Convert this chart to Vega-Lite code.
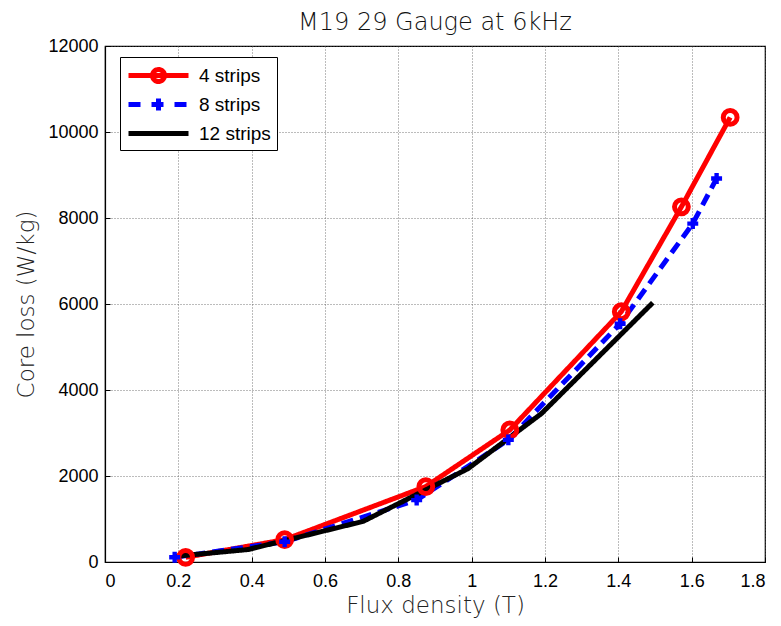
{
  "$schema": "https://vega.github.io/schema/vega-lite/v6.json",
  "autosize": "none",
  "width": 660,
  "height": 516,
  "padding": {"left": 105, "top": 46, "right": 16, "bottom": 64},
  "background": "white",
  "title": {"text": "M19 29 Gauge at 6kHz", "font": "DejaVu Sans", "fontSize": 24, "fontWeight": 200, "color": "#111111", "offset": 2, "anchor": "middle"},
  "config": {
    "view": {"stroke": "black", "strokeWidth": 1.2},
    "axis": {
      "labelFont": "Liberation Sans", "labelFontSize": 18, "labelColor": "black",
      "titleFont": "DejaVu Sans", "titleFontSize": 23, "titleFontWeight": 200, "titleColor": "#222222",
      "domainColor": "black", "domainWidth": 1.2,
      "tickColor": "black", "tickSize": -5,
      "gridColor": "#555555", "gridDash": [1, 2], "gridWidth": 0.8, "gridOpacity": 1
    },
    "legend": {
      "labelFont": "Liberation Sans", "labelFontSize": 19, "labelColor": "black"
    }
  },
  "data": {"values": [
    {"series": "4 strips", "x": 0.22, "y": 110},
    {"series": "4 strips", "x": 0.49, "y": 520},
    {"series": "4 strips", "x": 0.875, "y": 1755},
    {"series": "4 strips", "x": 1.104, "y": 3070},
    {"series": "4 strips", "x": 1.408, "y": 5820},
    {"series": "4 strips", "x": 1.572, "y": 8260},
    {"series": "4 strips", "x": 1.705, "y": 10340},
    {"series": "8 strips", "x": 0.19, "y": 110},
    {"series": "8 strips", "x": 0.49, "y": 470},
    {"series": "8 strips", "x": 0.85, "y": 1440},
    {"series": "8 strips", "x": 1.1, "y": 2840},
    {"series": "8 strips", "x": 1.405, "y": 5540},
    {"series": "8 strips", "x": 1.603, "y": 7870},
    {"series": "8 strips", "x": 1.668, "y": 8920},
    {"series": "12 strips", "x": 0.19, "y": 130},
    {"series": "12 strips", "x": 0.39, "y": 290},
    {"series": "12 strips", "x": 0.704, "y": 945},
    {"series": "12 strips", "x": 0.99, "y": 2170},
    {"series": "12 strips", "x": 1.19, "y": 3450},
    {"series": "12 strips", "x": 1.494, "y": 6030}
  ]},
  "encoding": {
    "x": {"field": "x", "type": "quantitative", "title": "Flux density (T)",
      "scale": {"domain": [0, 1.8], "nice": false},
      "axis": {"values": [0, 0.2, 0.4, 0.6, 0.8, 1, 1.2, 1.4, 1.6, 1.8], "format": "~g", "labelPadding": 15, "titlePadding": 4}},
    "y": {"field": "y", "type": "quantitative", "title": "Core loss (W/kg)",
      "scale": {"domain": [0, 12000], "nice": false},
      "axis": {"values": [0, 2000, 4000, 6000, 8000, 10000, 12000], "format": "d", "labelPadding": 12, "titlePadding": 9}}
  },
  "layer": [
    {
      "mark": {"type": "line", "strokeWidth": 5, "strokeCap": "butt", "strokeJoin": "miter"},
      "encoding": {
        "color": {"field": "series", "type": "nominal", "title": null,
          "scale": {"domain": ["4 strips", "8 strips", "12 strips"], "range": ["#ff0000", "#0000ff", "#000000"]}},
        "strokeDash": {"field": "series", "type": "nominal", "legend": null,
          "scale": {"domain": ["4 strips", "8 strips", "12 strips"], "range": [[1, 0], [12, 7], [1, 0]]}},
        "order": {"field": "x", "type": "quantitative"}
      }
    },
    {
      "transform": [{"filter": "datum.series === '4 strips'"}],
      "mark": {"type": "point", "shape": "circle", "filled": false, "strokeWidth": 5, "size": 190, "opacity": 1, "color": "#ff0000"}
    },
    {
      "transform": [{"filter": "datum.series === '8 strips'"}],
      "mark": {"type": "point", "shape": "cross", "filled": true, "size": 120, "opacity": 1, "color": "#0000ff"}
    },
    {
      "transform": [{"filter": "false"}],
      "mark": {"type": "point", "filled": false, "strokeWidth": 5, "size": 400, "opacity": 1},
      "encoding": {
        "color": {"field": "series", "type": "nominal", "title": null,
          "legend": {"orient": "none", "legendX": 15, "legendY": 11, "symbolSize": 400, "symbolStrokeWidth": 5,
            "fillColor": "white", "strokeColor": "black", "padding": 6, "rowPadding": -5, "labelOffset": 48}},
        "shape": {"field": "series", "type": "nominal", "title": null,
          "scale": {"domain": ["4 strips", "8 strips", "12 strips"],
            "range": ["M-1,0H5M2.6,0A0.6,0.6,0,1,1,1.4,0A0.6,0.6,0,1,1,2.6,0Z", "M-1,0H0.7M1.3,0H2.7M2,-0.6V0.6M3.6,0H5", "M-1,0H5"]}}
      }
    }
  ]
}
